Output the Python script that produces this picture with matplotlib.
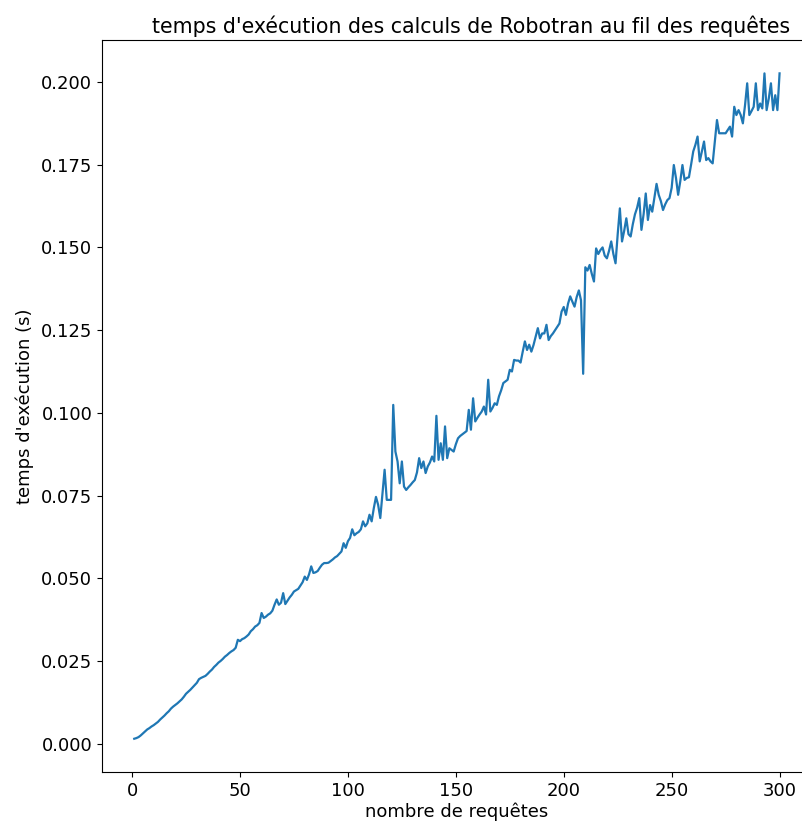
import numpy as np
import matplotlib
matplotlib.use("Agg")
import matplotlib.pyplot as plt

# execution time (s) for requests 1..300
requetes = np.arange(1, 301)
temps = [
    0.0015, 0.0017, 0.0020, 0.0025, 0.0031, 0.0037, 0.0043, 0.0047, 0.0052, 0.0056,
    0.0061, 0.0066, 0.0073, 0.0079, 0.0085, 0.0092, 0.0098, 0.0106, 0.0112, 0.0117,
    0.0122, 0.0128, 0.0134, 0.0142, 0.0151, 0.0157, 0.0163, 0.0170, 0.0177, 0.0184,
    0.0195, 0.0199, 0.0202, 0.0205, 0.0211, 0.0218, 0.0224, 0.0232, 0.0238, 0.0245,
    0.0250, 0.0256, 0.0263, 0.0268, 0.0274, 0.0279, 0.0283, 0.0290, 0.0314, 0.0310,
    0.0316, 0.0319, 0.0324, 0.0330, 0.0340, 0.0346, 0.0354, 0.0358, 0.0365, 0.0395,
    0.0380, 0.0384, 0.0390, 0.0394, 0.0402, 0.0420, 0.0436, 0.0420, 0.0426, 0.0455,
    0.0422, 0.0432, 0.0442, 0.0450, 0.0460, 0.0464, 0.0468, 0.0478, 0.0488, 0.0505,
    0.0495, 0.0512, 0.0536, 0.0516, 0.0518, 0.0522, 0.0532, 0.0541, 0.0546, 0.0546,
    0.0547, 0.0552, 0.0557, 0.0563, 0.0567, 0.0574, 0.0581, 0.0606, 0.0592, 0.0612,
    0.0622, 0.0648, 0.0630, 0.0636, 0.0640, 0.0648, 0.0672, 0.0657, 0.0666, 0.0692,
    0.0672, 0.0712, 0.0746, 0.0722, 0.0682, 0.0755, 0.0828, 0.0737, 0.0737, 0.0737,
    0.1024, 0.0883, 0.0853, 0.0787, 0.0853, 0.0777, 0.0767, 0.0775, 0.0782, 0.0790,
    0.0797, 0.0820, 0.0863, 0.0833, 0.0853, 0.0818, 0.0838, 0.0850, 0.0868, 0.0853,
    0.0991, 0.0858, 0.0908, 0.0858, 0.0959, 0.0863, 0.0893, 0.0888, 0.0883, 0.0905,
    0.0923, 0.0930, 0.0935, 0.0940, 0.0945, 0.1009, 0.0949, 0.1044, 0.0974, 0.0985,
    0.0995, 0.1004, 0.1019, 0.0995, 0.1100, 0.1004, 0.1015, 0.1029, 0.1024, 0.1050,
    0.1068, 0.1090, 0.1095, 0.1100, 0.1130, 0.1125, 0.1160, 0.1158, 0.1158, 0.1152,
    0.1185, 0.1216, 0.1190, 0.1206, 0.1185, 0.1205, 0.1230, 0.1256, 0.1225, 0.1240,
    0.1240, 0.1266, 0.1220, 0.1232, 0.1240, 0.1250, 0.1260, 0.1270, 0.1306, 0.1320,
    0.1296, 0.1330, 0.1352, 0.1336, 0.1321, 0.1350, 0.1370, 0.1340, 0.1118, 0.1440,
    0.1430, 0.1447, 0.1420, 0.1397, 0.1497, 0.1480, 0.1492, 0.1500, 0.1475, 0.1467,
    0.1490, 0.1518, 0.1480, 0.1452, 0.1540, 0.1618, 0.1518, 0.1550, 0.1588, 0.1540,
    0.1533, 0.1570, 0.1600, 0.1620, 0.1649, 0.1553, 0.1600, 0.1663, 0.1583, 0.1628,
    0.1608, 0.1650, 0.1692, 0.1659, 0.1640, 0.1613, 0.1630, 0.1643, 0.1649, 0.1680,
    0.1749, 0.1710, 0.1659, 0.1700, 0.1749, 0.1704, 0.1710, 0.1712, 0.1750, 0.1790,
    0.1810, 0.1835, 0.1760, 0.1790, 0.1820, 0.1764, 0.1770, 0.1760, 0.1754, 0.1820,
    0.1885, 0.1845, 0.1845, 0.1845, 0.1845, 0.1855, 0.1865, 0.1835, 0.1925, 0.1900,
    0.1915, 0.1900, 0.1875, 0.1930, 0.1996, 0.1900, 0.1912, 0.1925, 0.1996, 0.1915,
    0.1935, 0.1920, 0.2026, 0.1915, 0.1950, 0.1996, 0.1915, 0.1960, 0.1915, 0.2026,
]

plt.rcParams['font.size'] = 13

fig = plt.figure(figsize=(8.03, 8.27), dpi=100)
# axes run a bit past the right edge, like the cropped original
ax = fig.add_axes([0.127, 0.0665, 0.884, 0.885])
ax.plot(requetes, temps, lw=1.6)

ax.set_title("temps d'exécution des calculs de Robotran au fil des requêtes",
             fontsize=14.8, pad=5, x=0.52)
ax.set_xlabel("nombre de requêtes", labelpad=2)
ax.set_ylabel("temps d'exécution (s)", labelpad=5)
ax.tick_params(labelsize=13)

fig.savefig("out.png", dpi=100)
